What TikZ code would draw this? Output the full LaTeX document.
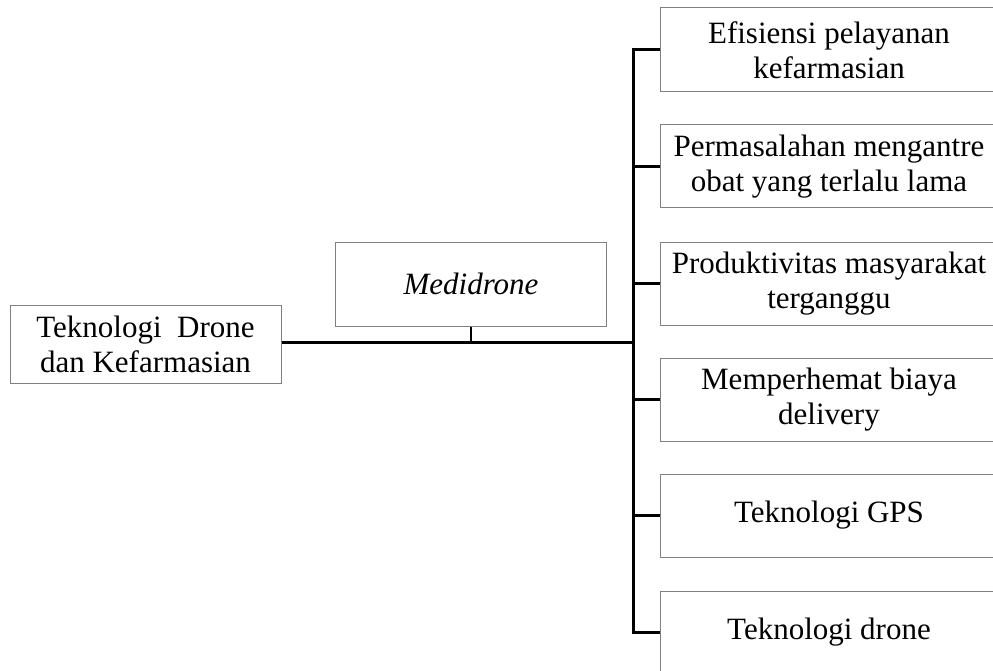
\documentclass[tikz,border=0pt]{standalone}
\usepackage{fontspec}
\setmainfont{Liberation Serif}
\begin{document}
\begin{tikzpicture}[x=1pt,y=-1pt,
  box/.style={draw=black!50, line width=1pt, fill=white, inner sep=0pt, align=center,
    font=\fontsize{31}{35}\selectfont},
  rbox/.style={box, minimum width=338pt, minimum height=83pt},
  conn/.style={line width=3pt, black},
  tick/.style={line width=2pt, black}]
\useasboundingbox (0,0) rectangle (993,671);
\clip (0,0) rectangle (993,671);
% left and middle boxes
\node[box, minimum width=271pt, minimum height=78pt] (root) at (145.5,344) {Teknologi\ \ Drone\\dan Kefarmasian};
\node[box, minimum width=271pt, minimum height=84pt] (med) at (471,284) {\itshape Medidrone};
% right boxes
\node[rbox, minimum height=84pt] (b1) at (829,50) {Efisiensi pelayanan\\kefarmasian};
\node[rbox] (b2) at (829,166.5) {Permasalahan mengantre\\obat yang terlalu lama};
\node[rbox] (b3) at (829,283.5) {Produktivitas masyarakat\\terganggu};
\node[rbox] (b4) at (829,399.5) {Memperhemat biaya\\delivery};
\node[rbox] (b5) at (829,515.5) {Teknologi GPS};
\node[rbox] (b6) at (829,632.5) {Teknologi drone};
% connectors
\coordinate (bt) at (633,50);
\coordinate (bb) at (633,632.5);
\coordinate (j) at (633,342);
\draw[conn] (root.east |- j) -- (j);
\draw[tick] (med.south) -- (med.south |- j);
\draw[conn, line cap=rect] (bt) -- (bb);
\foreach \b in {b1,b2,b3,b4,b5,b6} {
  \draw[conn] (\b.west -| j) -- (\b.west);
}
\end{tikzpicture}
\end{document}
